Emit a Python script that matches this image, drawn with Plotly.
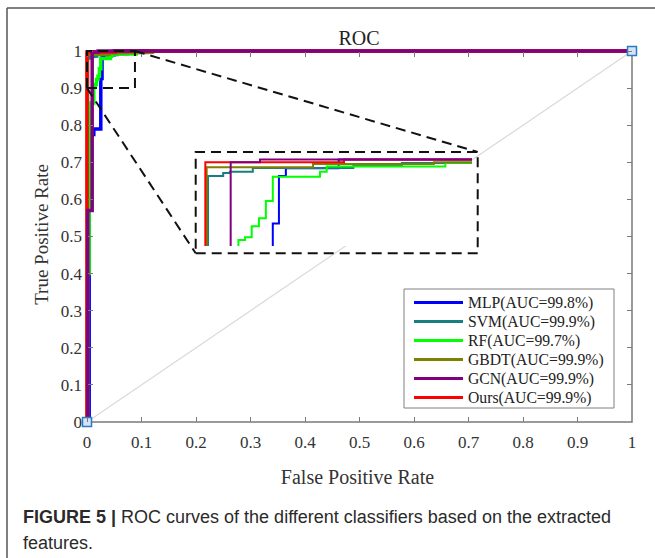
import plotly.graph_objects as go

# ---------------- data ----------------
models = ["MLP", "SVM", "RF", "GBDT", "GCN", "Ours"]
auc_text = ["99.8%", "99.9%", "99.7%", "99.9%", "99.9%", "99.9%"]

mlp_fpr = [0, 0.004, 0.004, 0.0125, 0.0125, 0.0253, 0.0253, 0.0276, 0.0276, 0.0302, 0.0302, 0.05, 0.05, 1]
mlp_tpr = [0, 0, 0.775, 0.775, 0.79, 0.79, 0.926, 0.926, 0.981, 0.981, 0.990, 0.990, 1, 1]

svm_fpr = [0, 0.001, 0.001, 0.0067, 0.0067, 0.0092, 0.0092, 0.0178, 0.0178, 0.0555, 0.0555, 0.0737, 0.0737, 0.11, 0.11, 1]
svm_tpr = [0, 0, 0.981, 0.981, 0.9845, 0.9845, 0.986, 0.986, 0.9903, 0.9903, 0.9929, 0.9929, 0.996, 0.996, 1, 1]

rf_fpr = [0, 0.001, 0.001, 0.004, 0.004, 0.0124, 0.0124, 0.0149, 0.0149, 0.0174, 0.0174, 0.0201, 0.0201,
          0.0227, 0.0227, 0.0253, 0.0253, 0.043, 0.043, 0.0455, 0.0455, 0.09, 0.09, 0.12, 0.12, 1]
rf_tpr = [0, 0, 0.40, 0.40, 0.86, 0.86, 0.907, 0.907, 0.910, 0.910, 0.923, 0.923, 0.932,
          0.932, 0.952, 0.952, 0.980, 0.980, 0.986, 0.986, 0.992, 0.992, 0.9964, 0.9964, 1, 1]

gbdt_fpr = [0, 0.0005, 0.0005, 0.0404, 0.0404, 0.0857, 0.0857, 0.12, 0.12, 1]
gbdt_tpr = [0, 0, 0.991, 0.991, 0.9948, 0.9948, 0.997, 0.997, 1, 1]

gcn_fpr = [0, 0.0015, 0.0015, 0.0095, 0.0095, 0.0205, 0.0205, 1]
gcn_tpr = [0, 0, 0.57, 0.57, 0.997, 0.997, 1, 1]

ours_fpr = [0, 0, 0.052, 0.052, 1]
ours_tpr = [0, 0.997, 0.997, 1, 1]

diag_fpr = [0, 1]
diag_tpr = [0, 1]

tick_vals = [0, 0.1, 0.2, 0.3, 0.4, 0.5, 0.6, 0.7, 0.8, 0.9, 1]
tick_text = ["0", "0.1", "0.2", "0.3", "0.4", "0.5", "0.6", "0.7", "0.8", "0.9", "1"]

curves = {
    "MLP": (mlp_fpr, mlp_tpr),
    "SVM": (svm_fpr, svm_tpr),
    "RF": (rf_fpr, rf_tpr),
    "GBDT": (gbdt_fpr, gbdt_tpr),
    "GCN": (gcn_fpr, gcn_tpr),
    "Ours": (ours_fpr, ours_tpr),
}

# ---------------- style / layout ----------------
colors = {"MLP": "#0000ff", "SVM": "#15807f", "RF": "#00ff00",
          "GBDT": "#808000", "GCN": "#80007f", "Ours": "#ff0000"}
draw_order = ["MLP", "SVM", "RF", "GBDT", "Ours", "GCN"]

W, H = 655, 558
ML, MR, MT, MB = 83, 23, 47, 136
X0PX, X1PX = 87, 632     # pixel of data x=0 and x=1
Y0PX, Y1PX = 422, 51     # pixel of data y=0 and y=1
PW, PH = W - ML - MR, H - MT - MB


def pxx(px):
    return (px - ML) / PW


def pxy(py):
    return (H - MB - py) / PH


x_range = [-(X0PX - ML) / (X1PX - X0PX), 1.0]
y_range = [0.0, 1.0 + (Y1PX - MT) / (Y0PX - Y1PX)]

inset_x_range = [-0.002, 0.1]
inset_y_range = [0.9, 1.003]
INSET_PX = (200, 472)      # inset curve area, pixels
INSET_PY = (246, 157)
BOX_PX = (195.7, 477.7)    # dashed inset frame, pixels
BOX_PY = (253.3, 152)

SERIF = "Liberation Serif, Times New Roman, serif"
SANS = "Liberation Sans, Arial, sans-serif"
TXT = "#333333"
AXC = "#7a7a7a"

fig = go.Figure()

for name in draw_order:
    fx, fy = curves[name]
    i = models.index(name)
    fig.add_trace(go.Scatter(
        x=fx, y=fy, mode="lines", name=f"{name}(AUC={auc_text[i]})",
        line=dict(color=colors[name], width=3.5), showlegend=False,
        xaxis="x", yaxis="y", hoverinfo="skip"))

for name in draw_order:
    fx, fy = curves[name]
    fig.add_trace(go.Scatter(
        x=fx, y=fy, mode="lines", showlegend=False,
        line=dict(color=colors[name], width=2),
        xaxis="x3", yaxis="y3", hoverinfo="skip"))

fig.add_trace(go.Scatter(
    x=diag_fpr, y=diag_tpr, mode="lines+markers", showlegend=False,
    line=dict(color="#dadada", width=1.2),
    marker=dict(symbol="square", size=9, color="#d4e3f7",
                line=dict(color="#2b7bbd", width=1.5)),
    cliponaxis=False, xaxis="x2", yaxis="y2", hoverinfo="skip"))

tickfont = dict(family=SERIF, size=17, color=TXT)
common = dict(tickmode="array", tickvals=tick_vals, ticktext=tick_text,
              ticks="inside", ticklen=5, tickwidth=1.3, tickcolor=AXC,
              showgrid=False, zeroline=False, showline=False)

fig.update_layout(
    width=W, height=H,
    margin=dict(l=ML, r=MR, t=MT, b=MB, autoexpand=False),
    paper_bgcolor="white", plot_bgcolor="white",
    showlegend=False,
    title=dict(text="ROC", font=dict(family=SERIF, size=20, color="#222222"),
               x=pxx(359), xref="paper", xanchor="center",
               y=1 - 38 / H, yref="container", yanchor="middle"),
    xaxis=dict(range=x_range, domain=[0, 1], anchor="y", side="bottom",
               tickfont=tickfont, ticklabelstandoff=8,
               title=dict(text="False Positive Rate",
                          font=dict(family=SERIF, size=20, color=TXT), standoff=18),
               **common),
    yaxis=dict(range=y_range, domain=[0, 1], anchor="x", side="right",
               showticklabels=False, **common),
    xaxis2=dict(range=x_range, overlaying="x", anchor="free", position=pxy(Y1PX),
                side="top", showticklabels=False, **common),
    yaxis2=dict(range=y_range, overlaying="y", anchor="free", position=pxx(X0PX),
                side="left", tickfont=tickfont, ticklabelstandoff=5,
                title=dict(text="True Positive Rate",
                           font=dict(family=SERIF, size=19, color=TXT), standoff=6),
                **common),
    xaxis3=dict(range=inset_x_range, domain=[pxx(INSET_PX[0]), pxx(INSET_PX[1])], anchor="y3",
                showticklabels=False, ticks="", showgrid=False, zeroline=False, showline=False),
    yaxis3=dict(range=inset_y_range, domain=[pxy(INSET_PY[0]), pxy(INSET_PY[1])], anchor="x3",
                showticklabels=False, ticks="", showgrid=False, zeroline=False, showline=False),
)

# axes box (bottom / right visible, left / top under curves)
fig.add_shape(type="rect", xref="paper", yref="paper",
              x0=pxx(X0PX), x1=pxx(X1PX), y0=pxy(Y0PX), y1=pxy(Y1PX),
              line=dict(color=AXC, width=1.5), layer="below")

dash = "10px,6px"
bx0 = (BOX_PX[0] - X0PX) / (X1PX - X0PX)
bx1 = (BOX_PX[1] - X0PX) / (X1PX - X0PX)
by0 = (Y0PX - BOX_PY[0]) / (Y0PX - Y1PX)
by1 = (Y0PX - BOX_PY[1]) / (Y0PX - Y1PX)
zoom_x1, zoom_y0 = 0.088, 0.9
fig.add_shape(type="rect", xref="x", yref="y", x0=0, x1=zoom_x1, y0=zoom_y0, y1=1.0,
              line=dict(color="#111111", width=2, dash=dash), layer="above")
fig.add_shape(type="rect", xref="x", yref="y", x0=bx0, x1=bx1, y0=by0, y1=by1,
              line=dict(color="#111111", width=2, dash=dash), layer="above")
fig.add_shape(type="line", xref="x", yref="y", x0=zoom_x1, y0=1.0, x1=bx1, y1=by1,
              line=dict(color="#111111", width=2, dash=dash), layer="above")
fig.add_shape(type="line", xref="x", yref="y", x0=0, y0=zoom_y0, x1=bx0, y1=by0,
              line=dict(color="#111111", width=2, dash=dash), layer="above")

# legend (box, line samples, labels)
LEG_PX = (404, 614)
LEG_PY = (289, 408)
fig.add_shape(type="rect", xref="paper", yref="paper",
              x0=pxx(LEG_PX[0]), x1=pxx(LEG_PX[1]), y0=pxy(LEG_PY[1]), y1=pxy(LEG_PY[0]),
              fillcolor="white", line=dict(color="#808080", width=1), layer="above")
for i, name in enumerate(models):
    ry = 302.5 + 19 * i
    fig.add_shape(type="line", xref="paper", yref="paper",
                  x0=pxx(414), x1=pxx(463), y0=pxy(ry), y1=pxy(ry),
                  line=dict(color=colors[name], width=3), layer="above")
    fig.add_annotation(xref="paper", yref="paper", x=pxx(466), y=pxy(ry),
                       xanchor="left", yanchor="middle", showarrow=False,
                       text=f"{name}(AUC={auc_text[i]})",
                       font=dict(family=SERIF, size=15.7, color="#222222"))

# outer frame (top and left edges)
fig.add_shape(type="line", xref="paper", yref="paper",
              x0=pxx(7), y0=pxy(8), x1=pxx(670), y1=pxy(8),
              line=dict(color="#555555", width=1.5))
fig.add_shape(type="line", xref="paper", yref="paper",
              x0=pxx(7), y0=pxy(8), x1=pxx(7), y1=pxy(575),
              line=dict(color="#555555", width=1.5))

# white backing of the inset (hides the chance line behind it)
fig.add_shape(type="rect", xref="x3", yref="y3", layer="between",
              x0=inset_x_range[0], x1=inset_x_range[1],
              y0=inset_y_range[0], y1=inset_y_range[1],
              fillcolor="white", line=dict(width=0))

# caption
fig.add_annotation(xref="paper", yref="paper", x=pxx(21), y=pxy(517),
                   xanchor="left", yanchor="middle", showarrow=False, align="left",
                   text="<b>FIGURE 5 |</b> ROC curves of the different classifiers based on the extracted",
                   font=dict(family=SANS, size=18, color="#2a2a2a"))
fig.add_annotation(xref="paper", yref="paper", x=pxx(21), y=pxy(543),
                   xanchor="left", yanchor="middle", showarrow=False, align="left",
                   text="features.",
                   font=dict(family=SANS, size=18, color="#2a2a2a"))

fig.write_html("out.html")
